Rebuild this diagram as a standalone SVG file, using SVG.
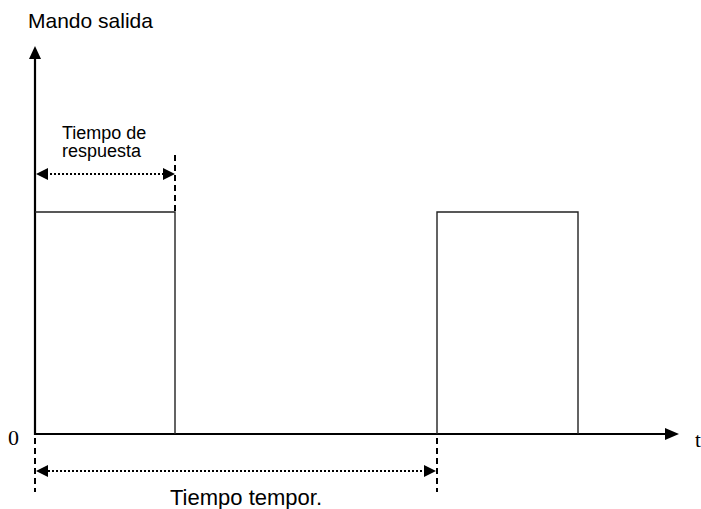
<svg xmlns="http://www.w3.org/2000/svg" width="701" height="509" viewBox="0 0 701 509">
<style>
.sans{font-family:"Liberation Sans",Arial,sans-serif;fill:#000}
.serif{font-family:"Liberation Serif","Times New Roman",serif;fill:#000}
.axis{stroke:#000;stroke-width:2.2;fill:none}
.pulse{stroke:#222;stroke-width:1.4;fill:none}
.dash{stroke:#000;stroke-width:2;stroke-dasharray:6,4;fill:none}
.dot{stroke:#000;stroke-width:2;stroke-dasharray:2,2;fill:none}
</style>
<rect width="701" height="509" fill="#fff"/>
<g id="connectors">
<line class="axis" x1="35" y1="435" x2="35" y2="58"/>
<polygon points="35,46 29,59 41,59" fill="#000"/>
<line class="axis" x1="35" y1="434" x2="667" y2="434"/>
<polygon points="679,434 665,428 665,440" fill="#000"/>
<polyline class="pulse" points="35,212 175,212 175,434"/>
<polyline class="pulse" points="437,434 437,212 578,212 578,434"/>
<line class="dash" x1="175" y1="155" x2="175" y2="212"/>
<line class="dot" x1="46" y1="174" x2="164" y2="174"/>
<polygon points="36,174 48,168 48,180" fill="#000"/>
<polygon points="175,174 163,168 163,180" fill="#000"/>
<line class="dash" x1="35" y1="438" x2="35" y2="492"/>
<line class="dash" x1="437" y1="438" x2="437" y2="492"/>
<line class="dot" x1="48" y1="471" x2="425" y2="471"/>
<polygon points="36,471 48,465 48,477" fill="#000"/>
<polygon points="436,471 424,465 424,477" fill="#000"/>
</g>
<g id="label-y"><text class="sans" x="28" y="28" font-size="21">Mando salida</text></g>
<g id="label-resp"><text class="sans" x="62" y="139" font-size="18">Tiempo de</text><text class="sans" x="62" y="157" font-size="18">respuesta</text></g>
<g id="label-tempor"><text class="sans" x="246" y="505" font-size="22" text-anchor="middle">Tiempo tempor.</text></g>
<g id="label-0"><text class="serif" x="8" y="445" font-size="22">0</text></g>
<g id="label-t"><text class="serif" x="695" y="447" font-size="21">t</text></g>
</svg>
